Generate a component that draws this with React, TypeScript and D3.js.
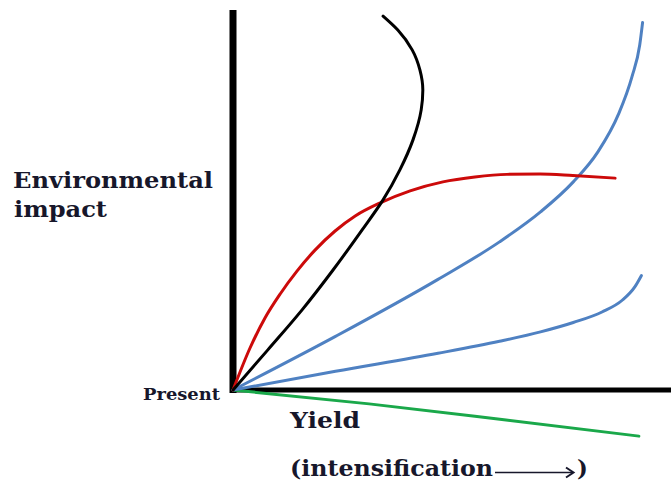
import React from "react";
import * as d3 from "d3";

// Conceptual chart: yield (x, 0-100) vs environmental impact (y, 0-100)
type P = [number, number];

const blackCurve: P[] = [
  [0, 0], [8.5, 10.7], [16.8, 21.3], [24.4, 32], [31.5, 42.7], [36.6, 50.7],
  [40.7, 58.7], [43.9, 66.7], [45.9, 74.7], [46.3, 80], [45.6, 85.3], [43.7, 90.7],
  [40.2, 96], [36.6, 99.7],
];
const redCurve: P[] = [
  [0, 0], [4.15, 11.2], [7.8, 19.2], [11.5, 25.6], [15.6, 31.7], [20, 37.3],
  [24.9, 42.4], [29.8, 46.4], [35.9, 49.9], [43.2, 53.1], [51.2, 55.5], [59, 56.8],
  [66.8, 57.5], [74.9, 57.6], [82.9, 57.2], [93.2, 56.5],
];
const blueUpper: P[] = [
  [0, 0], [25, 14.3], [50, 29.5], [65, 39.5], [75, 47.5], [83, 55.5],
  [89, 63.5], [94, 73.5], [97.3, 83.5], [99.2, 92], [99.9, 98],
];
const blueLower: P[] = [
  [0, 0], [25, 5], [50, 9.8], [65, 13], [75, 15.5], [83, 18],
  [90, 20.8], [95, 24], [98, 27.5], [99.6, 30.5],
];
const greenLine: P[] = [[0, 0], [33.2, -3.7], [66.6, -8], [99, -12.3]];

const yLabelLines = ["Environmental", "impact"];
const originLabel = "Present";
const xLabel = "Yield";
const xSubLabel = "(intensification";

const W = 671;
const H = 483;

export default function App() {
  const x = d3.scaleLinear().domain([0, 100]).range([233, 643]);
  const y = d3.scaleLinear().domain([0, 100]).range([390, 15]);
  const lineX = d3
    .line<P>()
    .x((d) => x(d[0]))
    .y((d) => y(d[1]))
    .curve(d3.curveMonotoneX);
  const lineY = d3
    .line<P>()
    .x((d) => x(d[0]))
    .y((d) => y(d[1]))
    .curve(d3.curveMonotoneY);

  const textColor = "#17172b";
  const font = "'DejaVu Serif', serif";

  const series: { data: P[]; color: string; byY?: boolean }[] = [
    { data: greenLine, color: "#1aa84a" },
    { data: blueLower, color: "#4f81c2" },
    { data: blueUpper, color: "#4f81c2" },
    { data: redCurve, color: "#cc0a0a" },
    { data: blackCurve, color: "#000000", byY: true },
  ];

  const ax0 = x(0);
  const ay0 = y(0);

  return (
    <svg
      width={W}
      height={H}
      viewBox={`0 0 ${W} ${H}`}
      style={{ position: "absolute", left: 0, top: 0, display: "block", background: "#fff" }}
    >
      <rect width={W} height={H} fill="#fff" />
      {/* axes */}
      <line x1={ax0} y1={10} x2={ax0} y2={ay0 + 3} stroke="#000" strokeWidth={7} />
      <line x1={ax0 - 3} y1={ay0} x2={W} y2={ay0} stroke="#000" strokeWidth={5} />

      {series.map((s, i) => (
        <path
          key={i}
          d={(s.byY ? lineY(s.data) : lineX(s.data)) || ""}
          fill="none"
          stroke={s.color}
          strokeWidth={3}
          strokeLinecap="round"
        />
      ))}

      {/* labels */}
      <g fontFamily={font} fontWeight="bold" fill={textColor}>
        <text x={13} y={188} fontSize={23} textLength={200} lengthAdjust="spacingAndGlyphs">
          {yLabelLines[0]}
        </text>
        <text x={14} y={217} fontSize={23} textLength={93} lengthAdjust="spacingAndGlyphs">
          {yLabelLines[1]}
        </text>
        <text x={143} y={400} fontSize={16} textLength={77} lengthAdjust="spacingAndGlyphs">
          {originLabel}
        </text>
        <text x={290} y={428} fontSize={23} textLength={70} lengthAdjust="spacingAndGlyphs">
          {xLabel}
        </text>
        <text x={290} y={476} fontSize={23} textLength={203} lengthAdjust="spacingAndGlyphs">
          {xSubLabel}
        </text>
        <text x={577} y={476} fontSize={23}>
          )
        </text>
      </g>
      {/* arrow in sub label */}
      <line x1={495} y1={472.5} x2={573} y2={472.5} stroke={textColor} strokeWidth={1.6} />
      <path
        d="M566,467.5 L573.5,472.5 L566,477.5"
        fill="none"
        stroke={textColor}
        strokeWidth={2}
        strokeLinejoin="miter"
      />
    </svg>
  );
}
